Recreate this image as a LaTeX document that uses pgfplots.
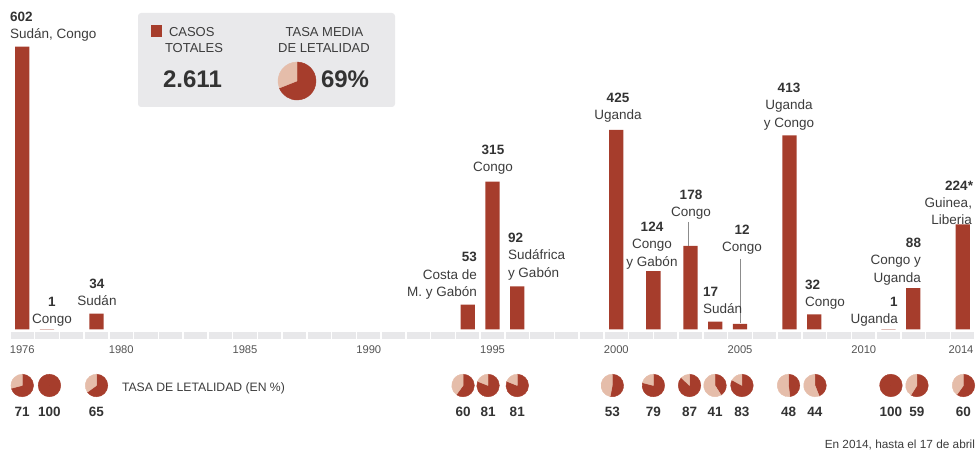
\documentclass[border=0pt]{standalone}
\usepackage{pgfplots}
\pgfplotsset{compat=1.18}
\usepackage{pgfplotstable}
\usepackage{fontspec}
\setmainfont{Liberation Sans}
\definecolor{ebred}{RGB}{166,61,44}
\definecolor{pielight}{RGB}{229,189,170}
\definecolor{bandgray}{RGB}{232,232,234}
\definecolor{boxgray}{RGB}{233,233,235}
\definecolor{txt}{RGB}{60,60,60}
\definecolor{numtxt}{RGB}{51,51,51}
\definecolor{yeartxt}{RGB}{85,85,85}
\definecolor{leader}{RGB}{140,140,140}

\pgfplotstableread{
x y f r
1976 -119.2 71 11.3
1977.1 -119.2 100 11.3
1979 -119.2 65 11.3
1993.81 -119.2 60 11.3
1994.82 -119.2 81 11.3
1996.0 -119.2 81 11.3
1999.84 -119.2 53 11.3
2001.5 -119.2 79 11.3
2002.96 -119.2 87 11.3
2003.99 -119.2 41 11.3
2005.08 -119.2 83 11.3
2006.96 -119.2 48 11.3
2008.03 -119.2 44 11.3
2011.1 -119.2 100 11.3
2012.15 -119.2 59 11.3
2014.03 -119.2 60 11.3
}\piedata

\pgfplotstableread{
x y f r
1987.101 528.95 69 19
}\avgpie

\pgfplotsset{
 pie/.style={scatter, only marks, mark=*, mark size=0pt,
   mark options={draw=none,fill=none},
   point meta=\thisrow{f}, point meta min=0, point meta max=100,
   visualization depends on={\thisrow{f}\as\pf},
   visualization depends on={\thisrow{r}\as\pr},
   scatter/@pre marker code/.code={
     \pgfmathsetmacro\pend{90-3.6*\pf}
     \fill[ebred] (0pt,0pt) -- (0pt,\pr pt) arc[start angle=90, end angle=\pend, radius=\pr pt] -- cycle;
     \ifdim\pf pt<99.9pt
       \fill[pielight] (0pt,0pt) -- (\pend:\pr pt) arc[start angle=\pend, end angle=-270, radius=\pr pt] -- cycle;
     \fi
   },
   scatter/@post marker code/.code={},
 }
}

\tikzset{
 num/.style={font=\fontsize{13.5}{16}\selectfont\bfseries, text=numtxt},
 nm/.style={font=\fontsize{13.5}{16}\selectfont, text=txt},
 yr/.style={font=\fontsize{11.2}{13}\selectfont, text=yeartxt},
}

\begin{document}
\begin{tikzpicture}
\path (0,0) rectangle (980pt,452pt);
% background decorations in pixel coordinates (origin top-left)
\begin{scope}[shift={(0,452pt)}, x=1pt, y=-1pt]
\fill[boxgray, rounded corners=3pt] (138,13) rectangle (395,107);
\foreach \i in {0,...,38}{
  \fill[bandgray] ({22.25+24.75*\i-11.6},332) rectangle ({22.25+24.75*\i+11.6},339);
}
\end{scope}

\begin{axis}[
  at={(0,0)}, anchor=south west,
  scale only axis, width=980pt, height=452pt,
  hide axis, clip=false,
  xmin=1975.101, xmax=2014.697,
  ymin=-260.75, ymax=701.4,
]
\addplot[ybar, bar width=14.3pt, fill=ebred, draw=none] coordinates {
 (1976,602) (1977,1) (1979,34) (1994,53) (1995,315) (1996,92)
 (2000,425) (2001.5,124) (2003,178) (2004,17) (2005,12)
 (2007,413) (2008,32) (2011,1) (2012,88) (2014,224)};

\addplot[pie] table[x=x, y=y] {\piedata};

\addplot[draw=none, mark=none, point meta=explicit symbolic,
  nodes near coords={\pgfplotspointmeta},
  nodes near coords style={anchor=base, yshift=-31pt,
    font=\fontsize{13.5}{16}\selectfont\bfseries, text=numtxt, inner sep=0pt}]
  table[x=x, y=y, meta=f] {\piedata};

\addplot[pie] table[x=x, y=y] {\avgpie};
\end{axis}

\begin{scope}[shift={(0,452pt)}, x=1pt, y=-1pt, inner sep=0pt, outer sep=0pt]
% legend box
\fill[ebred] (151,25) rectangle (162,37);
\node[anchor=base west, font=\fontsize{13}{15}\selectfont, text=txt] at (169,37) {CASOS};
\node[anchor=base west, font=\fontsize{13}{15}\selectfont, text=txt] at (165,52.5) {TOTALES};
\node[anchor=base, font=\fontsize{13}{15}\selectfont, text=txt] at (324.5,37) {TASA MEDIA};
\node[anchor=base, font=\fontsize{13}{15}\selectfont, text=txt] at (324,52.5) {DE LETALIDAD};
\node[anchor=base, font=\fontsize{24}{28}\selectfont\bfseries, text=numtxt] at (192.5,88) {2.611};
\node[anchor=base west, font=\fontsize{24}{28}\selectfont\bfseries, text=numtxt] at (321,88) {69\%};

% year labels
\node[yr, anchor=base] at (22.25,354) {1976};
\node[yr, anchor=base] at (121.25,354) {1980};
\node[yr, anchor=base] at (245,354) {1985};
\node[yr, anchor=base] at (368.75,354) {1990};
\node[yr, anchor=base] at (492.5,354) {1995};
\node[yr, anchor=base] at (616.25,354) {2000};
\node[yr, anchor=base] at (740,354) {2005};
\node[yr, anchor=base] at (863.75,354) {2010};
\node[yr, anchor=base] at (961,354) {2014};

% other text
\node[anchor=base west, font=\fontsize{12.2}{14}\selectfont, text=txt] at (122,391.5) {TASA DE LETALIDAD (EN \%)};
\node[anchor=base east, font=\fontsize{11.8}{14}\selectfont, text=txt] at (975,449) {En 2014, hasta el 17 de abril};

% leader lines
\draw[leader, line width=0.6pt] (688.5,222) -- (688.5,246);
\draw[leader, line width=0.6pt] (740.5,259) -- (740.5,323);

% bar labels
\node[num, anchor=base west] at (10,22) {602};
\node[nm, anchor=base west] at (10,39) {Sudán, Congo};
\node[num, anchor=base] at (52,307) {1};
\node[nm, anchor=base] at (52,324) {Congo};
\node[num, anchor=base] at (97,288.5) {34};
\node[nm, anchor=base] at (97,306) {Sudán};
\node[num, anchor=base east] at (477,262) {53};
\node[nm, anchor=base east] at (477,279.5) {Costa de};
\node[nm, anchor=base east] at (477,297) {M. y Gabón};
\node[num, anchor=base] at (493,155) {315};
\node[nm, anchor=base] at (493,172) {Congo};
\node[num, anchor=base west] at (508,243) {92};
\node[nm, anchor=base west] at (508,260) {Sudáfrica};
\node[nm, anchor=base west] at (508,277.5) {y Gabón};
\node[num, anchor=base] at (618,103) {425};
\node[nm, anchor=base] at (618,120) {Uganda};
\node[num, anchor=base] at (652,232) {124};
\node[nm, anchor=base] at (652,249) {Congo};
\node[nm, anchor=base] at (652,266.5) {y Gabón};
\node[num, anchor=base] at (691,200) {178};
\node[nm, anchor=base] at (691,217) {Congo};
\node[num, anchor=base west] at (703,297) {17};
\node[nm, anchor=base west] at (703,314) {Sudán};
\node[num, anchor=base] at (742,235) {12};
\node[nm, anchor=base] at (742,252) {Congo};
\node[num, anchor=base] at (789,93) {413};
\node[nm, anchor=base] at (789,110) {Uganda};
\node[nm, anchor=base] at (789,127.5) {y Congo};
\node[num, anchor=base west] at (805,290) {32};
\node[nm, anchor=base west] at (805,307) {Congo};
\node[num, anchor=base east] at (897.5,307) {1};
\node[nm, anchor=base east] at (898,324) {Uganda};
\node[num, anchor=base east] at (921,248) {88};
\node[nm, anchor=base east] at (921,265) {Congo y};
\node[nm, anchor=base east] at (921,282.5) {Uganda};
\node[num, anchor=base east] at (973,191) {224*};
\node[nm, anchor=base east] at (972,208) {Guinea,};
\node[nm, anchor=base east] at (972,225) {Liberia};
\end{scope}
\end{tikzpicture}
\end{document}
